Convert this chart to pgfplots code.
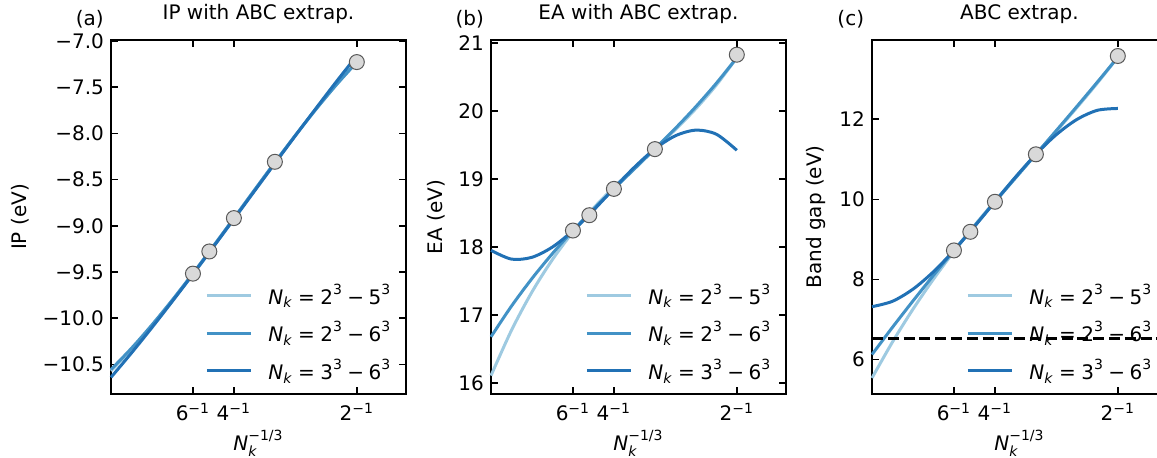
\documentclass[border=0pt]{standalone}
\usepackage{fontspec}
\setmainfont{DejaVu Sans}
\usepackage{amsmath}
\usepackage{pgfplots}
\usepackage{pgfplotstable}
\pgfplotsset{compat=1.18}

\definecolor{cL}{HTML}{9ECAE1}
\definecolor{cM}{HTML}{4292C6}
\definecolor{cD}{HTML}{2171B5}
\definecolor{mk}{HTML}{D9D9D9}

\newcommand{\Nk}[2]{$\textit{N}_{\textit{k}}\mathrel{\textrm{=}}\textrm{#1}^{\textrm{3}}\mathbin{\textrm{−}}\textrm{#2}^{\textrm{3}}$}

% fitted curves
\pgfplotstableread{
x        ipL     ipM     ipD     eaL    eaM    eaD    gapL   gapM   gapD
0        -10.570 -10.555 -10.640 16.110 16.680 17.950 5.540  6.125  7.320
0.041667 -10.337 -10.325 -10.376 16.776 17.131 17.821 6.439  6.806  7.455
0.083333 -10.082 -10.072 -10.101 17.339 17.536 17.848 7.258  7.464  7.758
0.125    -9.808  -9.801  -9.816  17.815 17.903 17.999 8.008  8.103  8.193
0.166667 -9.520  -9.515  -9.525  18.220 18.240 18.240 8.700  8.725  8.725
0.208333 -9.223  -9.219  -9.228  18.569 18.554 18.538 9.346  9.335  9.320
0.25     -8.920  -8.918  -8.928  18.878 18.854 18.859 9.958  9.936  9.941
0.291667 -8.616  -8.615  -8.626  19.163 19.146 19.171 10.547 10.531 10.555
0.333333 -8.315  -8.315  -8.325  19.440 19.440 19.440 11.125 11.125 11.125
0.375    -8.021  -8.022  -8.026  19.724 19.742 19.633 11.703 11.720 11.617
0.416667 -7.740  -7.741  -7.731  20.031 20.061 19.716 12.292 12.320 11.995
0.458333 -7.474  -7.475  -7.441  20.378 20.405 19.656 12.904 12.929 12.224
0.5      -7.229  -7.229  -7.160  20.779 20.780 19.420 13.550 13.550 12.270
}\fits

% computed values
\pgfplotstableread{
x        ip     ea     gap
0.166667 -9.518 18.241 8.725
0.2      -9.278 18.466 9.190
0.25     -8.917 18.853 9.940
0.333333 -8.308 19.437 11.125
0.5      -7.229 20.824 13.580
}\pts

\pgfplotsset{
  panel/.style={
    scale only axis, width=147.5pt, height=177pt, anchor=south west,
    xmin=0, xmax=0.6, clip=false,
    xtick={0.166667,0.25,0.5},
    xticklabels={6$^{\textrm{−1}}$, 4$^{\textrm{−1}}$, 2$^{\textrm{−1}}$},
    xticklabel style={yshift=-1pt},
    tick align=inside, major tick length=3.5pt,
    tick style={black, line width=0.8pt},
    axis line style={line width=0.8pt},
    xlabel={$\textit{N}_{\textit{k}}^{\textrm{−1/3}}$},
    xlabel style={yshift=2pt},
    title style={anchor=base, at={(0.5,1)}, yshift=4.2pt},
    /pgf/number format/assume math mode=true,
    legend style={draw=none, fill=none, at={(0.965,0.02)}, anchor=south east,
      row sep=3.2pt, column sep=6pt, inner sep=0pt},
    legend cell align=left,
    legend image code/.code={\draw[##1, line width=1.5pt] (0cm,0cm) -- (22pt,0cm);},
    every axis plot/.append style={line width=1.5pt},
  },
  pts/.style={only marks, mark=*, mark size=3.75pt, line width=0.5pt,
    mark options={fill=mk, draw=black!65}, forget plot},
}

\begin{document}
\begin{tikzpicture}[font=\fontsize{10}{12}\selectfont]

\begin{axis}[panel, at={(55.5pt,32pt)},
    ymin=-10.82, ymax=-6.99,
    ytick={-10.5,-10,-9.5,-9,-8.5,-8,-7.5,-7},
    yticklabels={−10.5,−10.0,−9.5,−9.0,−8.5,−8.0,−7.5,−7.0},
    ylabel={IP (eV)}, title={IP with ABC extrap.}]
  \addplot[cL, smooth] table[x=x, y=ipL] {\fits};
  \addplot[cM, smooth] table[x=x, y=ipM] {\fits};
  \addplot[cD, smooth] table[x=x, y=ipD] {\fits};
  \addplot[pts] table[x=x, y=ip] {\pts};
  \legend{\Nk{2}{5}, \Nk{2}{6}, \Nk{3}{6}}
  \node[anchor=base, yshift=7pt] at (rel axis cs:-0.072,1) {(a)};
\end{axis}

\begin{axis}[panel, at={(245.5pt,32pt)},
    ymin=15.84, ymax=21.04, ytick={16,17,...,21},
    ylabel={EA (eV)}, title={EA with ABC extrap.}]
  \addplot[cL, smooth] table[x=x, y=eaL] {\fits};
  \addplot[cM, smooth] table[x=x, y=eaM] {\fits};
  \addplot[cD, smooth] table[x=x, y=eaD] {\fits};
  \addplot[pts] table[x=x, y=ea] {\pts};
  \legend{\Nk{2}{5}, \Nk{2}{6}, \Nk{3}{6}}
  \node[anchor=base, yshift=7pt] at (rel axis cs:-0.072,1) {(b)};
\end{axis}

\begin{axis}[panel, at={(436pt,32pt)},
    ymin=5.14, ymax=13.98, ytick={6,8,10,12},
    ylabel={Band gap (eV)}, title={ABC extrap.}]
  \addplot[cL, smooth] table[x=x, y=gapL] {\fits};
  \addplot[cM, smooth] table[x=x, y=gapM] {\fits};
  \addplot[cD, smooth] table[x=x, y=gapD] {\fits};
  \addplot[pts] table[x=x, y=gap] {\pts};
  \addplot[black, line width=1.5pt, dash pattern=on 5.5pt off 2.4pt, forget plot]
    coordinates {(0,6.52) (0.6,6.52)};
  \legend{\Nk{2}{5}, \Nk{2}{6}, \Nk{3}{6}}
  \node[anchor=base, yshift=7pt] at (rel axis cs:-0.072,1) {(c)};
\end{axis}

\pgfresetboundingbox
\path[use as bounding box] (0,0) rectangle (578.5pt,229pt);
\end{tikzpicture}
\end{document}
